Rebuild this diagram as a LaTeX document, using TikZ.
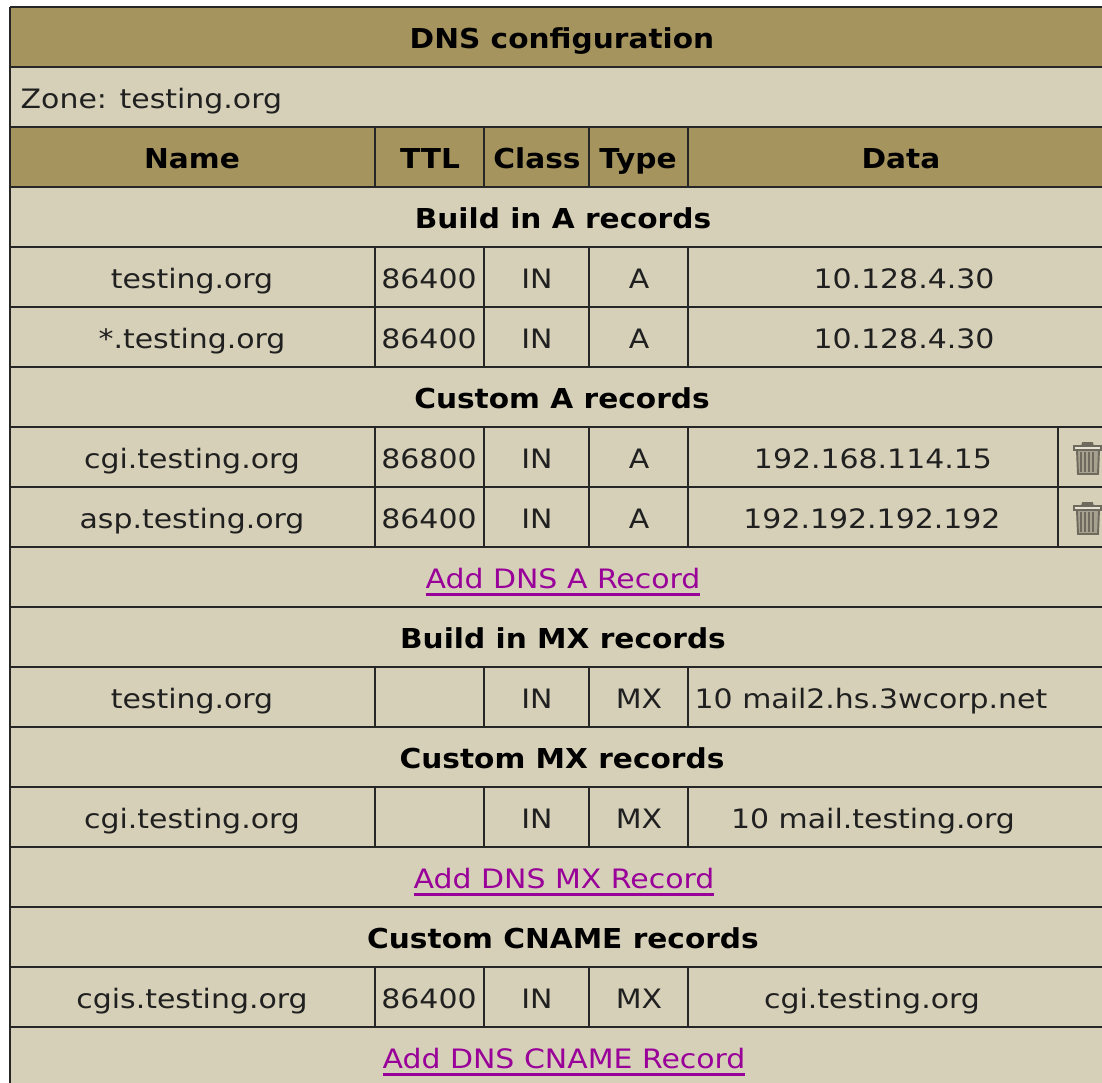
\documentclass[tikz,border=0pt]{standalone}
\usepackage{fontspec}
\setmainfont[FakeStretch=1.12,BoldFeatures={FakeStretch=1.08}]{DejaVu Sans}
\definecolor{headbrown}{HTML}{A6945F}
\definecolor{cellbeige}{HTML}{D6D0B8}
\definecolor{linkpurple}{HTML}{990099}
\definecolor{inkdark}{HTML}{202020}
\definecolor{trashgrey}{HTML}{6E6A5E}
\newcommand{\linktext}[1]{\setbox0\hbox{#1}\rlap{\rule[-2pt]{\wd0}{0.85pt}}\box0}
\tikzset{
    tablerule/.style={draw=black!85, line width=0.8pt},
    celltext/.style={anchor=base, inner sep=0pt, text=inkdark, font=\fontsize{7.6}{9}\selectfont},
    headtext/.style={celltext, text=black, font=\fontsize{7.8}{9}\selectfont\bfseries},
    linklabel/.style={celltext, text=linkpurple},
    trashline/.style={draw=trashgrey, line width=0.55pt}
}
\begin{document}
\begin{tikzpicture}[x=0.01cm, y=-0.01cm]
    \useasboundingbox (0,0) rectangle (1102,1083);
    % Bands
    \fill[cellbeige] (10,7) rectangle (1102,1083);
    \fill[headbrown] (10,7) rectangle (1102,67);
    \fill[headbrown] (10,127) rectangle (1102,187);

    % Horizontal rules
    \foreach \ruley in {7,67,127,...,1027}
        \draw[tablerule] (10,\ruley) -- (1102,\ruley);
    \draw[tablerule] (10,7) -- (10,1083);

    % Column rules
    \foreach \rowtop/\rowend in {127/187,247/367,427/547,667/727,787/847,967/1027} {
        \foreach \colx in {375,484,589,688}
            \draw[tablerule] (\colx,\rowtop) -- (\colx,\rowend);
    }
    \draw[tablerule] (1058,427) -- (1058,547);

    % Titles
    \node[headtext] (title) at (562,49) {DNS configuration};
    \node[celltext, anchor=base west] (zone) at (20,109) {Zone: testing.org};
    \node[headtext] (headname) at (192,169) {Name};
    \node[headtext] (headttl) at (430,169) {TTL};
    \node[headtext] (headclass) at (537,169) {Class};
    \node[headtext] (headtype) at (638,169) {Type};
    \node[headtext] (headdata) at (901,169) {Data};

    % Section labels
    \node[headtext] (builda) at (563,229) {Build in A records};
    \node[headtext] (customa) at (562,409) {Custom A records};
    \node[headtext] (buildmx) at (563,649) {Build in MX records};
    \node[headtext] (custommx) at (562,769) {Custom MX records};
    \node[headtext] (customcname) at (563,949) {Custom CNAME records};

    % Record rows
    \foreach \rowid/\baseliney/\recname/\recttl/\rectype/\recdata/\datax in {
        a/289/testing.org/86400/A/10.128.4.30/904,
        b/349/*.testing.org/86400/A/10.128.4.30/904,
        c/469/cgi.testing.org/86800/A/192.168.114.15/873,
        d/529/asp.testing.org/86400/A/192.192.192.192/872,
        e/709/testing.org//MX/10 mail2.hs.3wcorp.net/871,
        f/829/cgi.testing.org//MX/10 mail.testing.org/873,
        g/1009/cgis.testing.org/86400/MX/cgi.testing.org/872} {
        \node[celltext] (name\rowid) at (192,\baseliney) {\recname};
        \node[celltext] (ttl\rowid) at (429,\baseliney) {\recttl};
        \node[celltext] (class\rowid) at (537,\baseliney) {IN};
        \node[celltext] (type\rowid) at (639,\baseliney) {\rectype};
        \node[celltext] (data\rowid) at (\datax,\baseliney) {\recdata};
    }

    % Links
    \node[linklabel] (adda) at (563,589) {\linktext{Add DNS A Record}};
    \node[linklabel] (addmx) at (564,889) {\linktext{Add DNS MX Record}};
    \node[linklabel] (addcname) at (564,1069) {\linktext{Add DNS CNAME Record}};

    % Trash icons
    \foreach \trashy in {443,503} {
        \draw[trashline, fill=trashgrey] (1082,\trashy+3) -- (1083,\trashy) -- (1092,\trashy) -- (1093,\trashy+3);
        \draw[trashline, fill=cellbeige!60] (1074,\trashy+3) rectangle (1101,\trashy+7);
        \draw[trashline, fill=trashgrey!45!cellbeige] (1077,\trashy+7) -- (1078,\trashy+31) -- (1098,\trashy+31) -- (1099,\trashy+7) -- cycle;
        \foreach \barx in {1081,1085,1089,1093}
            \draw[trashline, line width=0.8pt] (\barx,\trashy+9) -- (\barx,\trashy+29);
    }
\end{tikzpicture}
\end{document}
